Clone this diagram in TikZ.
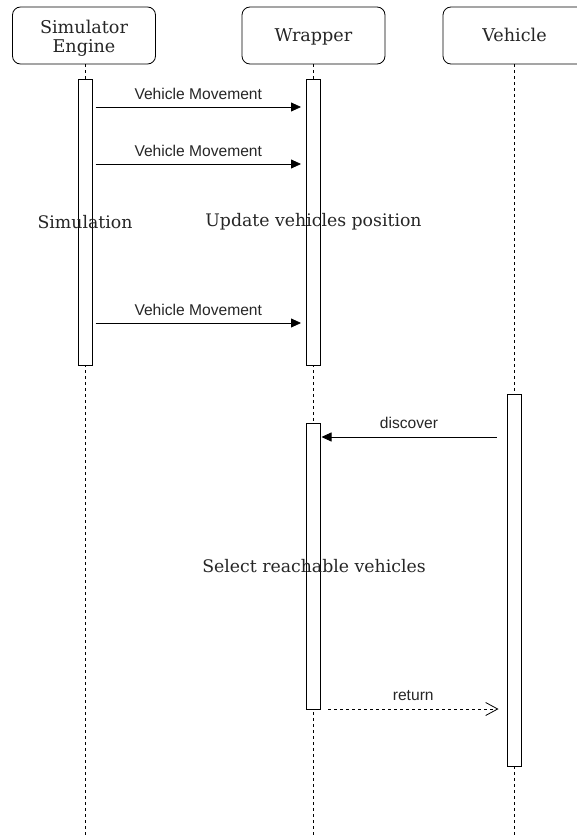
\documentclass[tikz,border=0pt]{standalone}
\usepackage{fontspec}
\setmainfont{DejaVu Serif}
\newfontfamily\msgfont{Liberation Sans}
\usetikzlibrary{arrows.meta}
\begin{document}
\begin{tikzpicture}[x=1pt,y=-1pt,
  every node/.style={text=black!85},
  head/.style={draw, rounded corners=8pt, fill=white, line width=0.8pt,
    minimum width=143pt, minimum height=57pt, align=center, inner sep=0pt,
    font=\fontsize{17.6}{21}\selectfont},
  onehead/.style={head, text height=12.8pt, text depth=0pt},
  life/.style={line width=0.8pt, dash pattern=on 3pt off 3pt},
  bar/.style={draw, fill=white, line width=0.8pt, minimum width=14pt, inner sep=0pt},
  note/.style={font=\fontsize{17.3}{20}\selectfont, inner sep=0pt},
  msg/.style={line width=0.8pt, -{Triangle[length=10pt,width=9pt]}},
  reply/.style={line width=0.8pt, dash pattern=on 3pt off 3pt,
    -{Straight Barb[length=12pt,width=13pt,line width=0.8pt]}},
  lbl/.style={font=\msgfont\fontsize{15.6}{17}\selectfont, anchor=base, inner sep=0pt}]
\useasboundingbox (0,0) rectangle (577,835);
\clip (0,0) rectangle (577,835);
\fill[white] (0,0) rectangle (577,835);

% participants
\node[head] (sim) at (84,35.5) {};
\node[font=\fontsize{17.6}{19.7}\selectfont, align=center, inner sep=0pt] (simTxt) at (84,38.3) {Simulator\\Engine};
\node[onehead] (wrap) at (313.5,35.5) {Wrapper};
\node[onehead] (veh) at (514.5,35.5) {Vehicle};

% lifelines
\coordinate (simEnd) at (85,840);
\coordinate (wrapEnd) at (313,840);
\coordinate (vehEnd) at (514,840);
\draw[life] (sim.south -| simEnd) -- (simEnd);
\draw[life] (wrap.south -| wrapEnd) -- (wrapEnd);
\draw[life] (veh.south -| vehEnd) -- (vehEnd);

% activation bars
\node[bar, minimum height=286pt] (simAct) at (85,222) {};
\node[bar, minimum height=286pt] (wrapActA) at (313,222) {};
\node[bar, minimum height=286pt] (wrapActB) at (313,566) {};
\node[bar, minimum height=372pt] (vehAct) at (514,580) {};

% activity notes
\node[note] (simNote) at (85,222) {Simulation};
\node[note] (updNote) at (313.5,222) {Update vehicles position};
\node[note] (selNote) at (314,566) {Select reachable vehicles};

% vehicle movement messages
\coordinate (m1a) at (95.5,107);  \coordinate (m1b) at (301,107);
\coordinate (m2a) at (95.5,164);  \coordinate (m2b) at (301,164);
\coordinate (m3a) at (95.5,323);  \coordinate (m3b) at (301,323);
\draw[msg] (m1a) -- node[lbl, yshift=8pt] {Vehicle Movement} (m1b);
\draw[msg] (m2a) -- node[lbl, yshift=8pt] {Vehicle Movement} (m2b);
\draw[msg] (m3a) -- node[lbl, yshift=8pt] {Vehicle Movement} (m3b);

% discovery request and reply
\coordinate (d1a) at (496.5,437); \coordinate (d1b) at (321.5,437);
\draw[msg] (d1a) -- node[lbl, yshift=9pt] {discover} (d1b);
\coordinate (r1a) at (328,709); \coordinate (r1b) at (498.5,709);
\draw[reply] (r1a) -- node[lbl, yshift=9pt] {return} (r1b);
\end{tikzpicture}
\end{document}
